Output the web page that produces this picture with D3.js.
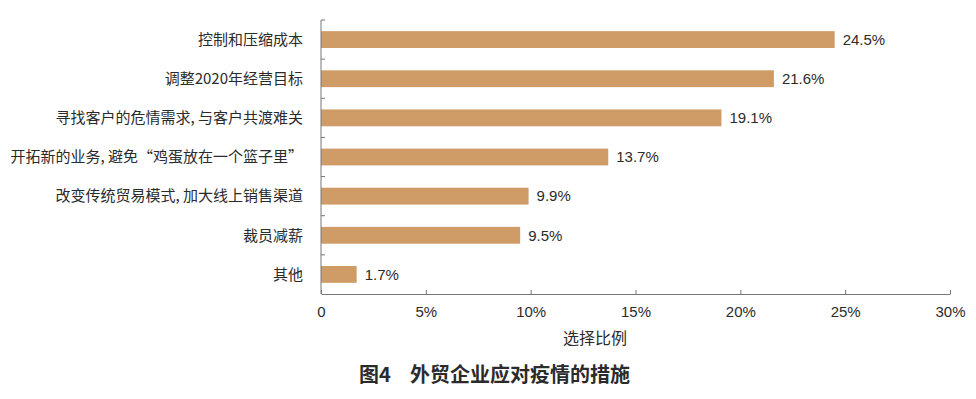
<!DOCTYPE html>
<html>
<head>
<meta charset="utf-8">
<script src="https://cdn.jsdelivr.net/npm/d3@7"></script>
<style>
    body { margin: 0; background: #fff; }
    text { font-family: "Noto Sans CJK SC", "Liberation Sans", sans-serif; fill: #2b2b2b; }
</style>
</head>
<body>
<script>
const categories = [
    "控制和压缩成本",
    "调整2020年经营目标",
    "寻找客户的危情需求, 与客户共渡难关",
    "开拓新的业务, 避免“鸡蛋放在一个篮子里”",
    "改变传统贸易模式, 加大线上销售渠道",
    "裁员减薪",
    "其他"
];
const values = [24.5, 21.6, 19.1, 13.7, 9.9, 9.5, 1.7];
const tickValues = [0, 5, 10, 15, 20, 25, 30];

const width = 976, height = 399;
const margin = { l: 321, r: 26, t: 20, b: 105 };

const svg = d3.select("body").append("svg")
    .attr("width", width)
    .attr("height", height);

const x = d3.scaleLinear()
    .domain([0, 30])
    .range([margin.l, width - margin.r]);

const y = d3.scaleBand()
    .domain(categories)
    .range([margin.t, height - margin.b])
    .paddingInner(0.57)
    .paddingOuter(0.285);

// bars
svg.append("g")
    .selectAll("rect")
    .data(categories)
    .join("rect")
    .attr("x", x(0))
    .attr("y", d => y(d))
    .attr("width", (d, i) => x(values[i]) - x(0))
    .attr("height", y.bandwidth())
    .attr("fill", "#cf9b66");

// value labels
svg.append("g")
    .selectAll("text")
    .data(categories)
    .join("text")
    .attr("x", (d, i) => x(values[i]) + 8)
    .attr("y", d => y(d) + y.bandwidth() / 2)
    .attr("dy", "0.35em")
    .style("font-size", "15px")
    .style("font-family", "'Liberation Sans', sans-serif")
    .text((d, i) => values[i] + "%");

// category labels
svg.append("g")
    .selectAll("text")
    .data(categories)
    .join("text")
    .attr("x", margin.l - 18)
    .attr("y", d => y(d) + y.bandwidth() / 2)
    .attr("dy", "0.35em")
    .attr("text-anchor", "end")
    .style("font-size", "15px")
    .attr("xml:space", "preserve")
    .text(d => d);

// y axis: line with inward ticks at band boundaries
const yAxis = svg.append("g");
yAxis.append("line")
    .attr("x1", x(0)).attr("x2", x(0))
    .attr("y1", margin.t).attr("y2", height - margin.b)
    .attr("stroke", "#777");
yAxis.selectAll(".tk")
    .data(categories)
    .join("line")
    .attr("class", "tk")
    .attr("x1", x(0)).attr("x2", x(0) + 4)
    .attr("y1", d => y(d) - y.step() * 0.285)
    .attr("y2", d => y(d) - y.step() * 0.285)
    .attr("stroke", "#777");

// x axis
const xAxis = svg.append("g")
    .attr("transform", `translate(0, ${height - margin.b})`)
    .call(d3.axisBottom(x)
        .tickValues(tickValues)
        .tickSizeInner(-4)
        .tickSizeOuter(0)
        .tickPadding(12)
        .tickFormat(d => d === 0 ? "0" : d + "%"));

xAxis.select(".domain").attr("stroke", "#777");
xAxis.selectAll(".tick line").attr("stroke", "#777");
xAxis.selectAll(".tick text")
    .style("font-size", "15px")
    .style("font-family", "'Liberation Sans', sans-serif")
    .attr("fill", "#2b2b2b");

svg.append("text")
    .attr("x", 595)
    .attr("y", 344)
    .attr("text-anchor", "middle")
    .style("font-size", "16px")
    .text("选择比例");

const title = svg.append("text")
    .attr("y", 382)
    .style("font-size", "20px")
    .style("font-weight", "bold");
title.append("tspan").attr("x", 359).text("图4");
title.append("tspan").attr("x", 410).text("外贸企业应对疫情的措施");
</script>
</body>
</html>
